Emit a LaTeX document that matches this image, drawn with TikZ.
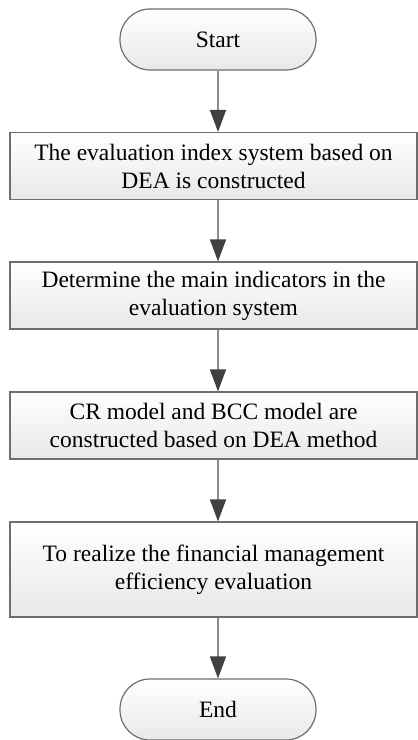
\documentclass[tikz,border=0pt]{standalone}
\usepackage{fontspec}
\setmainfont{Liberation Serif}
\usetikzlibrary{arrows.meta}
\definecolor{framegray}{HTML}{6E6E6E}
\definecolor{edgegray}{HTML}{8C8C8C}
\definecolor{headgray}{HTML}{404040}
\tikzset{
  term/.style={draw=framegray, line width=1.2pt, rounded corners=30pt,
    top color=white, bottom color=black!9, minimum width=196pt,
    minimum height=61pt, inner sep=0pt, font=\fontsize{23.5}{28}\selectfont},
  stage/.style={draw=framegray, line width=1.2pt, top color=white,
    bottom color=black!9, minimum width=407pt, align=center,
    inner sep=0pt, font=\fontsize{23.5}{28}\selectfont},
  flow/.style={draw=edgegray, line width=1.5pt,
    -{Triangle[width=16pt,length=22pt,color=headgray]}}
}
\begin{document}
\begin{tikzpicture}[x=1pt,y=-1pt]
                \useasboundingbox (0,0) rectangle (418,740);
                \node[term] (start) at (218,39.5) {Start};
                \node[stage,minimum height=67pt] (index) at (213.5,166) {The evaluation index system based on\\DEA is constructed};
                \node[stage,minimum height=67pt] (indic) at (213.5,295.5) {Determine the main indicators in the\\evaluation system};
                \node[stage,minimum height=67pt] (model) at (213.5,425.5) {CR model and BCC model are\\constructed based on DEA method};
                \node[stage,minimum height=95pt] (effic) at (213.5,569.5) {To realize the financial management\\efficiency evaluation};
                \node[term] (end) at (218,709.5) {End};

                \draw[flow] (start) to (start.south |- index.north); \draw[flow] (start.south |- index.south) to (start.south |- indic.north);
                \draw[flow] (start.south |- indic.south) to (start.south |- model.north); \draw[flow] (start.south |- model.south) to (start.south |- effic.north);
                \draw[flow] (start.south |- effic.south) to (end);
            \end{tikzpicture}
\end{document}
